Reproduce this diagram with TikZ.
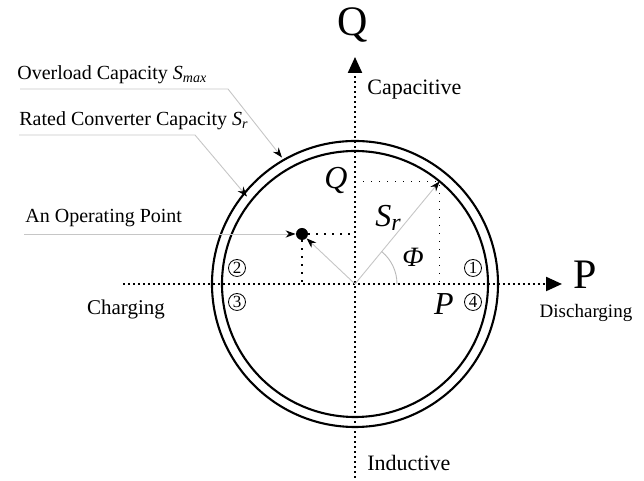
\documentclass[tikz,border=0pt]{standalone}
\usepackage{fontspec}
\setmainfont{Liberation Serif}
\usetikzlibrary{arrows.meta,calc}

\begin{document}
\begin{tikzpicture}[x=0.5pt,y=0.5pt,
  axis/.style={line width=1.1pt,dash pattern=on 1.1pt off 1.4pt,-{Triangle[length=8pt,width=7pt]}},
  proj/.style={line width=0.7pt,dash pattern=on 0.7pt off 3.3pt},
  ring/.style={line width=1.05pt},
  leader/.style={gray!45,line width=0.45pt,-{Stealth[length=5pt,width=3.6pt,color=black]}},
  lbl/.style={font=\fontsize{10}{12}\selectfont,inner sep=0pt},
  quad/.style={circle,draw,line width=0.4pt,inner sep=0pt,minimum size=8.5pt,font=\fontsize{8.5}{8.5}\selectfont}]
  \useasboundingbox (0,0) rectangle (644,481);
  \coordinate (O) at (355,197);

  % axes
  \coordinate (Pl) at (123,197);
  \coordinate (Pr) at (562,197);
  \coordinate (Qb) at (355,3);
  \coordinate (Qt) at (355,424);
  \draw[axis] (Pl) -- (Pr);
  \draw[axis] (Qb) -- (Qt);
  \node[font=\fontsize{21}{21}\selectfont] (Plbl) at (585,206) {P};
  \node[font=\fontsize{21}{21}\selectfont] (Qlbl) at (353,456) {Q};
  \node[lbl,font=\fontsize{11}{13}\selectfont,anchor=west] (cap) at (367,391) {Capacitive};
  \node[lbl,font=\fontsize{11}{13}\selectfont,anchor=west] (ind) at (367,18) {Inductive};
  \node[lbl,font=\fontsize{10.5}{12}\selectfont] (chg) at (126,172) {Charging};
  \node[lbl,font=\fontsize{9.5}{11}\selectfont] (dis) at (586,168) {Discharging};

  % capability circles
  \draw[ring] (O) circle[radius=71.5pt];
  \draw[ring] (O) circle[radius=66.5pt];
  \node[quad] (q1) at (473,213) {1};
  \node[quad] (q2) at (237,213) {2};
  \node[quad] (q3) at (237,179) {3};
  \node[quad] (q4) at (473,179) {4};

  % rated point and its projections
  \coordinate (A) at ($(O)+(50.5:133)$);
  \draw[proj] (O |- A) -- (A) -- (A |- O);
  \draw[gray!45,line width=0.45pt,-{Stealth[length=5pt,width=3.6pt,color=black]}] (O) -- (A);
  \draw[gray!55,line width=0.45pt] ($(O)+(21pt,0)$) arc[start angle=0,end angle=50.5,radius=21pt];
  \node[font=\fontsize{16}{16}\selectfont\itshape] (Qv) at (336,300) {Q};
  \node[font=\fontsize{16}{16}\selectfont\itshape] (Pv) at (444,177) {P};
  \node[font=\fontsize{16}{16}\selectfont\itshape] (Sr) at (388,263) {S\raisebox{-0.12em}{\fontsize{12}{12}\selectfont r}};
  \node[font=\fontsize{14}{14}\selectfont\itshape] (phi) at (413,224) {Φ};

  % operating point
  \node[circle,fill,inner sep=0pt,minimum size=6pt] (op) at (302,247) {};
  \draw[proj] (op) -- (op -| O);
  \draw[proj] (op) -- (op |- O);
  \draw[gray!45,line width=0.45pt,-{Stealth[length=5pt,width=3.6pt,color=black]}] (O) -- (op);

  % leaders
  \node[lbl,anchor=west] (ovl) at (17,406) {Overload Capacity \textit{S\textsubscript{max}}};
  \coordinate (ovlA) at (20,392);
  \coordinate (ovlB) at (228,392);
  \coordinate (ovlT) at ($(O)+(120:146)$);
  \draw[leader] (ovlA) -- (ovlB) -- (ovlT);
  \node[lbl,anchor=west] (rtd) at (19,360) {Rated Converter Capacity \textit{S\textsubscript{r}}};
  \coordinate (rtdA) at (19,346);
  \coordinate (rtdB) at (195,346);
  \coordinate (rtdT) at ($(O)+(141:139)$);
  \draw[leader] (rtdA) -- (rtdB) -- (rtdT);
  \node[lbl,anchor=west] (opl) at (25,263) {An Operating Point};
  \coordinate (oplA) at (24,247);
  \draw[leader] (oplA) -- (op);
\end{tikzpicture}
\end{document}
